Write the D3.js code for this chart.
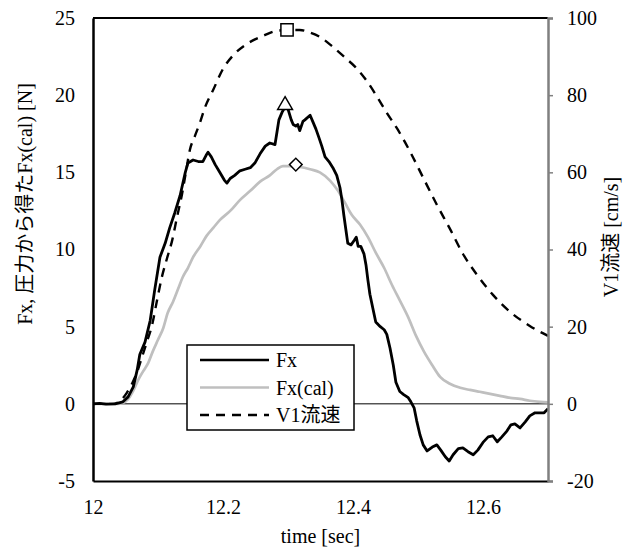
<!DOCTYPE html>
<html>
<head>
<meta charset="utf-8">
<script src="https://cdn.jsdelivr.net/npm/d3@7"></script>
<style>
  body { margin: 0; background: #fff; }
  svg text { font-family: "Liberation Serif", "Noto Sans CJK JP", serif; fill: #000; }
</style>
</head>
<body>
<div id="chart"></div>
<script>
// Fx [N] (left axis)
var fxData = [
  [12.000, 0], [12.010, 0.03], [12.020, -0.02], [12.034, 0.0], [12.046, 0.13], [12.054, 0.45],
  [12.062, 1.1], [12.068, 2.2], [12.072, 3.2], [12.080, 4.0], [12.088, 5.4], [12.095, 7.4],
  [12.103, 9.5], [12.111, 10.4], [12.118, 11.4], [12.126, 12.4], [12.134, 13.5], [12.142, 15.0],
  [12.146, 15.6], [12.154, 15.8], [12.162, 15.7], [12.169, 15.7], [12.174, 16.1], [12.177, 16.3],
  [12.182, 16.0], [12.188, 15.5], [12.195, 15.0], [12.202, 14.5], [12.206, 14.3], [12.211, 14.6],
  [12.218, 14.8], [12.226, 15.1], [12.234, 15.2], [12.242, 15.3], [12.249, 15.6], [12.257, 16.2],
  [12.265, 16.7], [12.272, 16.9], [12.280, 16.8], [12.283, 17.6], [12.286, 18.4], [12.291, 18.9],
  [12.295, 19.2], [12.300, 19.1], [12.305, 18.4], [12.308, 18.1], [12.312, 18.0], [12.315, 18.1],
  [12.318, 17.7], [12.323, 18.3], [12.326, 18.4], [12.334, 18.7], [12.338, 18.3], [12.343, 17.8],
  [12.348, 17.2], [12.352, 16.7], [12.357, 16.0], [12.363, 15.7], [12.369, 15.3], [12.375, 14.8],
  [12.380, 14.0], [12.383, 13.2], [12.386, 12.2], [12.389, 11.3], [12.392, 10.4], [12.397, 10.3],
  [12.402, 10.6], [12.405, 10.8], [12.408, 10.2], [12.412, 10.2], [12.417, 9.7], [12.420, 9.0],
  [12.423, 8.0], [12.426, 7.1], [12.431, 6.1], [12.435, 5.3], [12.442, 5.0], [12.448, 4.8],
  [12.452, 4.5], [12.457, 3.6], [12.462, 2.5], [12.466, 1.4], [12.472, 0.8], [12.478, 0.6],
  [12.485, 0.4], [12.489, 0.13], [12.494, -0.26], [12.498, -1.1], [12.503, -2.0], [12.508, -2.66],
  [12.514, -3.05], [12.522, -2.8], [12.529, -2.66], [12.535, -3.0], [12.542, -3.43], [12.548, -3.7],
  [12.554, -3.3], [12.562, -2.9], [12.569, -2.85], [12.577, -3.1], [12.585, -3.3], [12.592, -3.0],
  [12.600, -2.5], [12.608, -2.14], [12.615, -2.07], [12.622, -2.46], [12.629, -2.14], [12.637, -1.75],
  [12.643, -1.36], [12.649, -1.3], [12.657, -1.56], [12.665, -1.17], [12.672, -0.78], [12.680, -0.58],
  [12.688, -0.58], [12.694, -0.58], [12.700, -0.32]
];

// Fx(cal) [N] (left axis)
var fxCalData = [
  [12.000, 0], [12.037, 0], [12.046, 0.06], [12.054, 0.3], [12.062, 0.85], [12.069, 1.5],
  [12.077, 2.1], [12.085, 2.65], [12.092, 3.4], [12.100, 4.15], [12.108, 4.9], [12.115, 5.9],
  [12.123, 6.6], [12.131, 7.45], [12.138, 8.2], [12.146, 8.8], [12.154, 9.5], [12.165, 10.2],
  [12.175, 10.9], [12.185, 11.4], [12.195, 11.9], [12.211, 12.5], [12.226, 13.2], [12.242, 13.8],
  [12.257, 14.4], [12.272, 14.8], [12.283, 15.2], [12.292, 15.4], [12.303, 15.4], [12.318, 15.35],
  [12.334, 15.2], [12.349, 15.0], [12.365, 14.45], [12.377, 13.8], [12.388, 13.0], [12.398, 12.25],
  [12.411, 11.6], [12.423, 10.8], [12.435, 9.8], [12.448, 8.8], [12.460, 7.7], [12.472, 6.7],
  [12.485, 5.6], [12.497, 4.4], [12.509, 3.4], [12.522, 2.5], [12.534, 1.75], [12.549, 1.3],
  [12.565, 1.04], [12.580, 0.9], [12.595, 0.78], [12.611, 0.65], [12.626, 0.52], [12.642, 0.39],
  [12.657, 0.32], [12.672, 0.2], [12.688, 0.13], [12.700, 0.1]
];

// V1 flow speed [cm/s] (right axis)
var v1Data = [
  [12.000, 0], [12.026, 0], [12.037, 0.26], [12.045, 1.3], [12.052, 2.85], [12.060, 5.2],
  [12.068, 8.3], [12.075, 11.9], [12.083, 16.1], [12.091, 20.5], [12.098, 26.4], [12.106, 32.9],
  [12.114, 37.8], [12.122, 42.5], [12.129, 48.2], [12.137, 54.4], [12.143, 60.1], [12.149, 65.8],
  [12.157, 69.5], [12.165, 73.1], [12.172, 76.7], [12.185, 81.4], [12.200, 86.8], [12.215, 90.2],
  [12.237, 93.3], [12.262, 95.4], [12.283, 96.7], [12.303, 96.9], [12.318, 96.9], [12.334, 96.2],
  [12.349, 95.1], [12.369, 92.5], [12.388, 89.7], [12.403, 87.4], [12.422, 83.5], [12.437, 79.6],
  [12.452, 75.4], [12.468, 71.3], [12.488, 65.3], [12.508, 58.6], [12.529, 51.6], [12.549, 45.4],
  [12.569, 38.9], [12.591, 33.4], [12.615, 28.3], [12.642, 23.8], [12.672, 20.2], [12.700, 17.6]
];

// peak markers
var fxPeak = [12.2955, 19.35];
var fxCalPeak = [12.312, 15.5];
var v1Peak = [12.2985, 96.9];

var xTicks = [12, 12.2, 12.4, 12.6];
var yLeftTicks = [-5, 0, 5, 10, 15, 20, 25];
var yRightTicks = [-20, 0, 20, 40, 60, 80, 100];
var legendNames = ["Fx", "Fx(cal)", "V1流速"];

var W = 635, H = 555,
    plotL = 93, plotR = 548, plotT = 18, plotB = 481,
    FONT = '"Liberation Serif", "Noto Sans CJK JP", serif',
    FS = "20px";

var svg = d3.select("#chart").append("svg")
    .attr("width", W)
    .attr("height", H);

var x = d3.scaleLinear().domain([12, 12.7]).range([plotL, plotR]),
    yL = d3.scaleLinear().domain([-5, 25]).range([plotB, plotT]),
    yR = d3.scaleLinear().domain([-20, 100]).range([plotB, plotT]);

// zero line
svg.append("line")
    .attr("x1", plotL).attr("x2", plotR)
    .attr("y1", yL(0)).attr("y2", yL(0))
    .attr("stroke", "#000").attr("stroke-width", 1);

// top border
svg.append("line")
    .attr("x1", plotL).attr("x2", plotR)
    .attr("y1", plotT).attr("y2", plotT)
    .attr("stroke", "#000").attr("stroke-width", 2);

var lineL = d3.line().x(d => x(d[0])).y(d => yL(d[1]));
var lineLs = d3.line().x(d => x(d[0])).y(d => yL(d[1])).curve(d3.curveMonotoneX);
var lineR = d3.line().x(d => x(d[0])).y(d => yR(d[1])).curve(d3.curveMonotoneX);

svg.append("path").datum(v1Data)
    .attr("d", lineR).attr("fill", "none")
    .attr("stroke", "#000").attr("stroke-width", 2.4)
    .attr("stroke-dasharray", "9,7");

svg.append("path").datum(fxCalData)
    .attr("d", lineLs).attr("fill", "none")
    .attr("stroke", "#bfbfbf").attr("stroke-width", 2.7);

svg.append("path").datum(fxData)
    .attr("d", lineL).attr("fill", "none")
    .attr("stroke", "#000").attr("stroke-width", 2.8)
    .attr("stroke-linejoin", "round");

// axes
var fmt = d => String(d);

var gx = svg.append("g")
    .attr("transform", "translate(0," + plotB + ")")
    .call(d3.axisBottom(x).tickValues(xTicks).tickSize(0).tickPadding(19).tickFormat(fmt));
gx.select(".domain").attr("stroke", "#000").attr("stroke-width", 2);

var gl = svg.append("g")
    .attr("transform", "translate(" + plotL + ",0)")
    .call(d3.axisLeft(yL).tickValues(yLeftTicks).tickSize(0).tickPadding(18).tickFormat(fmt));
gl.select(".domain").attr("stroke", "#000").attr("stroke-width", 2.5);

var gr = svg.append("g")
    .attr("transform", "translate(" + plotR + ",0)")
    .call(d3.axisRight(yR).tickValues(yRightTicks).tickSize(5).tickPadding(14).tickFormat(fmt));
gr.select(".domain").attr("stroke", "#808080").attr("stroke-width", 2.5);
gr.selectAll(".tick line").attr("stroke", "#808080").attr("stroke-width", 1.5);

svg.selectAll("g").attr("font-family", FONT);
svg.selectAll(".tick text")
    .style("font-family", FONT)
    .style("font-size", FS);

// axis titles
svg.append("text")
    .attr("x", (plotL + plotR) / 2).attr("y", 543)
    .attr("text-anchor", "middle")
    .style("font-size", FS)
    .text("time [sec]");

svg.append("text")
    .attr("transform", "translate(32,204) rotate(-90)")
    .attr("text-anchor", "middle")
    .style("font-size", FS)
    .text("Fx, 圧力から得たFx(cal) [N]");

svg.append("text")
    .attr("transform", "translate(618,237) rotate(-90)")
    .attr("text-anchor", "middle")
    .style("font-size", FS)
    .text("V1流速 [cm/s]");

// peak markers
function marker(type, size, cx, cy, rot) {
    svg.append("path")
        .attr("d", d3.symbol().type(type).size(size)())
        .attr("transform", "translate(" + cx + "," + cy + ") rotate(" + (rot || 0) + ")")
        .attr("fill", "#fff").attr("stroke", "#000").attr("stroke-width", 1.5);
}
marker(d3.symbolTriangle, 95, x(fxPeak[0]), yL(fxPeak[1]));
marker(d3.symbolSquare, 80, x(fxCalPeak[0]), yL(fxCalPeak[1]), 45);
marker(d3.symbolSquare, 150, x(v1Peak[0]), yR(v1Peak[1]));

// legend
var lg = svg.append("g").attr("transform", "translate(187,345)");
lg.append("rect")
    .attr("width", 167).attr("height", 85)
    .attr("fill", "#fff").attr("stroke", "#000").attr("stroke-width", 1.5);

var legendStyles = [
    {stroke: "#000", dash: null},
    {stroke: "#bfbfbf", dash: null},
    {stroke: "#000", dash: "9,7"}
];
legendNames.forEach(function (name, i) {
    var yy = 15 + i * 27.5;
    lg.append("line")
        .attr("x1", 13).attr("x2", 82)
        .attr("y1", yy).attr("y2", yy)
        .attr("stroke", legendStyles[i].stroke)
        .attr("stroke-width", 2.7)
        .attr("stroke-dasharray", legendStyles[i].dash);
    lg.append("text")
        .attr("x", 89).attr("y", yy)
        .attr("dy", "0.35em")
        .style("font-size", FS)
        .text(name);
});
</script>
</body>
</html>
